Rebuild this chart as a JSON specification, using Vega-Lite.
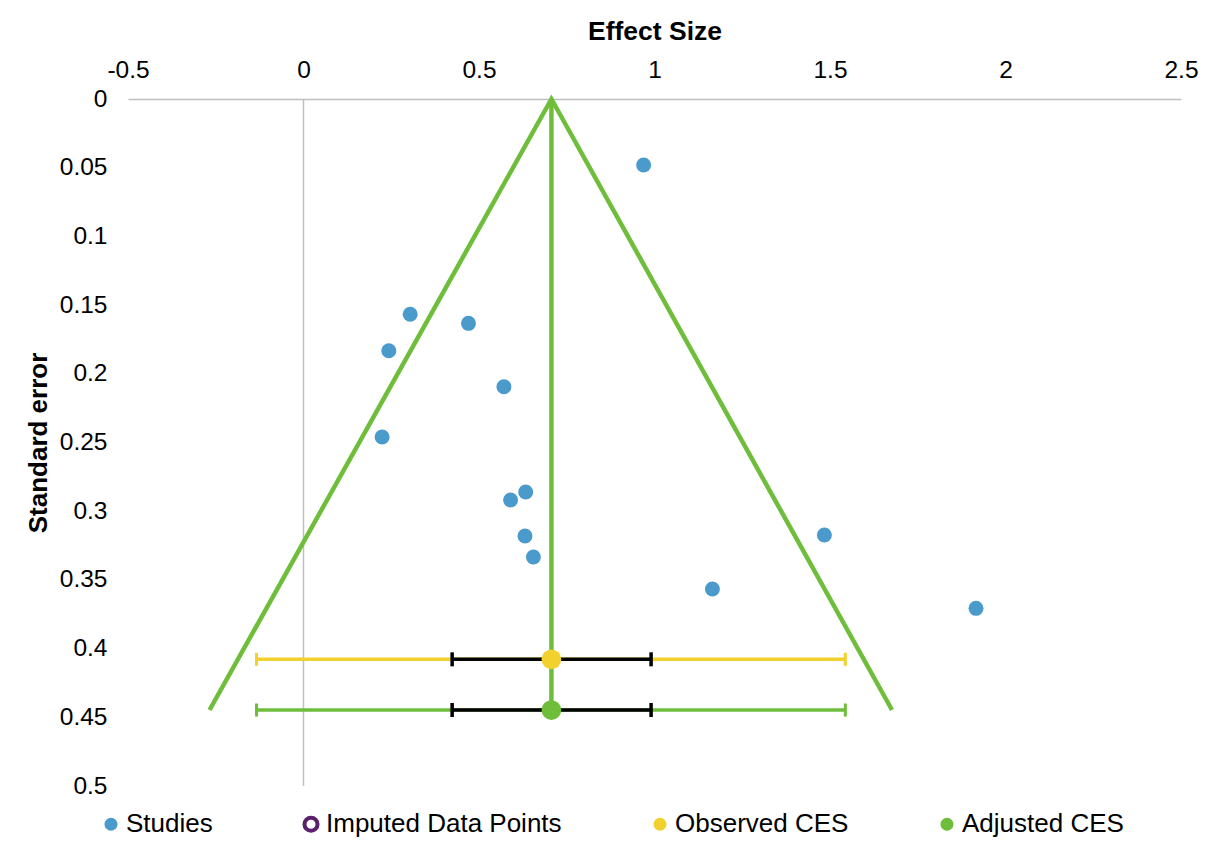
{
  "$schema": "https://vega.github.io/schema/vega-lite/v6.json",
  "width": 1053,
  "height": 687,
  "autosize": "none",
  "padding": {"left": 128, "top": 99, "right": 32, "bottom": 71},
  "background": "white",
  "config": {
    "view": {"stroke": null},
    "font": "Liberation Sans",
    "axis": {"labelColor": "#000000", "titleColor": "#000000", "grid": false}
  },
  "datasets": {
    "studies": [
      {"series": "Studies", "es": 0.969, "se": 0.048},
      {"series": "Studies", "es": 0.304, "se": 0.1567},
      {"series": "Studies", "es": 0.470, "se": 0.1633},
      {"series": "Studies", "es": 0.243, "se": 0.1832},
      {"series": "Studies", "es": 0.571, "se": 0.2094},
      {"series": "Studies", "es": 0.224, "se": 0.246},
      {"series": "Studies", "es": 0.633, "se": 0.286},
      {"series": "Studies", "es": 0.590, "se": 0.2918},
      {"series": "Studies", "es": 0.631, "se": 0.318},
      {"series": "Studies", "es": 0.655, "se": 0.3333},
      {"series": "Studies", "es": 1.484, "se": 0.3173},
      {"series": "Studies", "es": 1.165, "se": 0.3566},
      {"series": "Studies", "es": 1.916, "se": 0.3707}
    ],
    "funnel": [
      {"order": 1, "es": -0.2677, "se": 0.4447},
      {"order": 2, "es": 0.7063, "se": 0},
      {"order": 3, "es": 1.6767, "se": 0.4447}
    ],
    "center": [{"es": 0.7063, "se": 0, "se2": 0.4447}],
    "zero": [{"es": 0, "se": 0, "se2": 0.5}],
    "ces": [
      {"series": "Observed CES", "se": 0.4078, "es": 0.7063, "lo": -0.1339, "hi": 1.5437, "ilo": 0.4235, "ihi": 0.9903},
      {"series": "Adjusted CES", "se": 0.4447, "es": 0.7063, "lo": -0.1339, "hi": 1.5437, "ilo": 0.4235, "ihi": 0.9903}
    ]
  },
  "layer": [
    {
      "data": {"name": "zero"},
      "mark": {"type": "rule", "color": "#BFBFBF", "strokeWidth": 1.5},
      "encoding": {
        "x": {
          "field": "es", "type": "quantitative",
          "scale": {"domain": [-0.5, 2.5], "nice": false, "zero": false},
          "axis": {
            "orient": "top", "title": "Effect Size", "titleFontSize": 26.5, "titleFontWeight": "bold",
            "titlePadding": 12, "labelFontSize": 24.5, "ticks": false, "tickSize": 0, "labelPadding": 17,
            "domainColor": "#BFBFBF", "domainWidth": 1.5, "labelFlush": false, "labelOverlap": false,
            "values": [-0.5, 0, 0.5, 1, 1.5, 2, 2.5], "labelExpr": "'' + datum.value"
          }
        },
        "y": {
          "field": "se", "type": "quantitative",
          "scale": {"domain": [0, 0.5], "reverse": true, "nice": false, "zero": false},
          "axis": {
            "title": "Standard error", "titleFontSize": 26, "titleFontWeight": "bold", "titlePadding": 8,
            "labelFontSize": 24.5, "domain": false, "ticks": false, "tickSize": 0, "labelPadding": 21,
            "values": [0, 0.05, 0.1, 0.15, 0.2, 0.25, 0.3, 0.35, 0.4, 0.45, 0.5],
            "labelExpr": "'' + datum.value", "labelOverlap": false, "labelFlush": false
          }
        },
        "y2": {"field": "se2"}
      }
    },
    {
      "data": {"name": "funnel"},
      "mark": {"type": "line", "color": "#6EBE3C", "strokeWidth": 4.5},
      "encoding": {
        "x": {"field": "es", "type": "quantitative"},
        "y": {"field": "se", "type": "quantitative"},
        "order": {"field": "order", "type": "quantitative"}
      }
    },
    {
      "data": {"name": "center"},
      "mark": {"type": "rule", "color": "#6EBE3C", "strokeWidth": 4.5},
      "encoding": {
        "x": {"field": "es", "type": "quantitative"},
        "y": {"field": "se", "type": "quantitative"},
        "y2": {"field": "se2"}
      }
    },
    {
      "data": {"name": "ces"},
      "transform": [{"filter": "datum.series == 'Observed CES'"}],
      "mark": {"type": "rule", "color": "#F2D12E", "strokeWidth": 3.5},
      "encoding": {
        "x": {"field": "lo", "type": "quantitative"},
        "x2": {"field": "hi"},
        "y": {"field": "se", "type": "quantitative"}
      }
    },
    {
      "data": {"name": "ces"},
      "transform": [{"filter": "datum.series == 'Adjusted CES'"}],
      "mark": {"type": "rule", "color": "#6EBE3C", "strokeWidth": 3.5},
      "encoding": {
        "x": {"field": "lo", "type": "quantitative"},
        "x2": {"field": "hi"},
        "y": {"field": "se", "type": "quantitative"}
      }
    },
    {
      "data": {"name": "ces"},
      "transform": [{"filter": "datum.series == 'Observed CES'"}, {"fold": ["lo", "hi"], "as": ["end", "pos"]}],
      "mark": {"type": "tick", "orient": "vertical", "color": "#F2D12E", "size": 13, "thickness": 3, "opacity": 1},
      "encoding": {
        "x": {"field": "pos", "type": "quantitative"},
        "y": {"field": "se", "type": "quantitative"}
      }
    },
    {
      "data": {"name": "ces"},
      "transform": [{"filter": "datum.series == 'Adjusted CES'"}, {"fold": ["lo", "hi"], "as": ["end", "pos"]}],
      "mark": {"type": "tick", "orient": "vertical", "color": "#6EBE3C", "size": 13, "thickness": 3, "opacity": 1},
      "encoding": {
        "x": {"field": "pos", "type": "quantitative"},
        "y": {"field": "se", "type": "quantitative"}
      }
    },
    {
      "data": {"name": "ces"},
      "mark": {"type": "rule", "color": "#000000", "strokeWidth": 3.5},
      "encoding": {
        "x": {"field": "ilo", "type": "quantitative"},
        "x2": {"field": "ihi"},
        "y": {"field": "se", "type": "quantitative"}
      }
    },
    {
      "data": {"name": "ces"},
      "transform": [{"fold": ["ilo", "ihi"], "as": ["end", "pos"]}],
      "mark": {"type": "tick", "orient": "vertical", "color": "#000000", "size": 14, "thickness": 3.5, "opacity": 1},
      "encoding": {
        "x": {"field": "pos", "type": "quantitative"},
        "y": {"field": "se", "type": "quantitative"}
      }
    },
    {
      "data": {"name": "studies"},
      "mark": {"type": "point", "shape": "circle", "filled": true, "size": 225, "opacity": 1, "strokeWidth": 4},
      "encoding": {
        "x": {"field": "es", "type": "quantitative"},
        "y": {"field": "se", "type": "quantitative"},
        "fill": {
          "field": "series", "type": "nominal",
          "scale": {
            "domain": ["Studies", "Imputed Data Points", "Observed CES", "Adjusted CES"],
            "range": ["#4A9BCB", "#FFFFFF", "#F2D12E", "#6EBE3C"]
          },
          "legend": {
            "orient": "none", "legendX": -30, "legendY": 712, "direction": "horizontal", "title": null,
            "labelFontSize": 26, "labelColor": "#000000", "labelLimit": 500, "symbolSize": 170, "symbolStrokeWidth": 4,
            "columnPadding": 83, "labelOffset": 2, "symbolType": "circle", "symbolOpacity": 1
          }
        },
        "stroke": {
          "field": "series", "type": "nominal",
          "scale": {
            "domain": ["Studies", "Imputed Data Points", "Observed CES", "Adjusted CES"],
            "range": ["transparent", "#5B1F6E", "transparent", "transparent"]
          },
          "legend": {
            "orient": "none", "legendX": -30, "legendY": 712, "direction": "horizontal", "title": null,
            "labelFontSize": 26, "labelColor": "#000000", "labelLimit": 500, "symbolSize": 170, "symbolStrokeWidth": 4,
            "columnPadding": 83, "labelOffset": 2, "symbolType": "circle", "symbolOpacity": 1
          }
        }
      }
    },
    {
      "data": {"name": "ces"},
      "mark": {"type": "point", "shape": "circle", "filled": true, "size": 390, "opacity": 1, "strokeWidth": 0},
      "encoding": {
        "x": {"field": "es", "type": "quantitative"},
        "y": {"field": "se", "type": "quantitative"},
        "fill": {"field": "series", "type": "nominal"}
      }
    }
  ]
}
